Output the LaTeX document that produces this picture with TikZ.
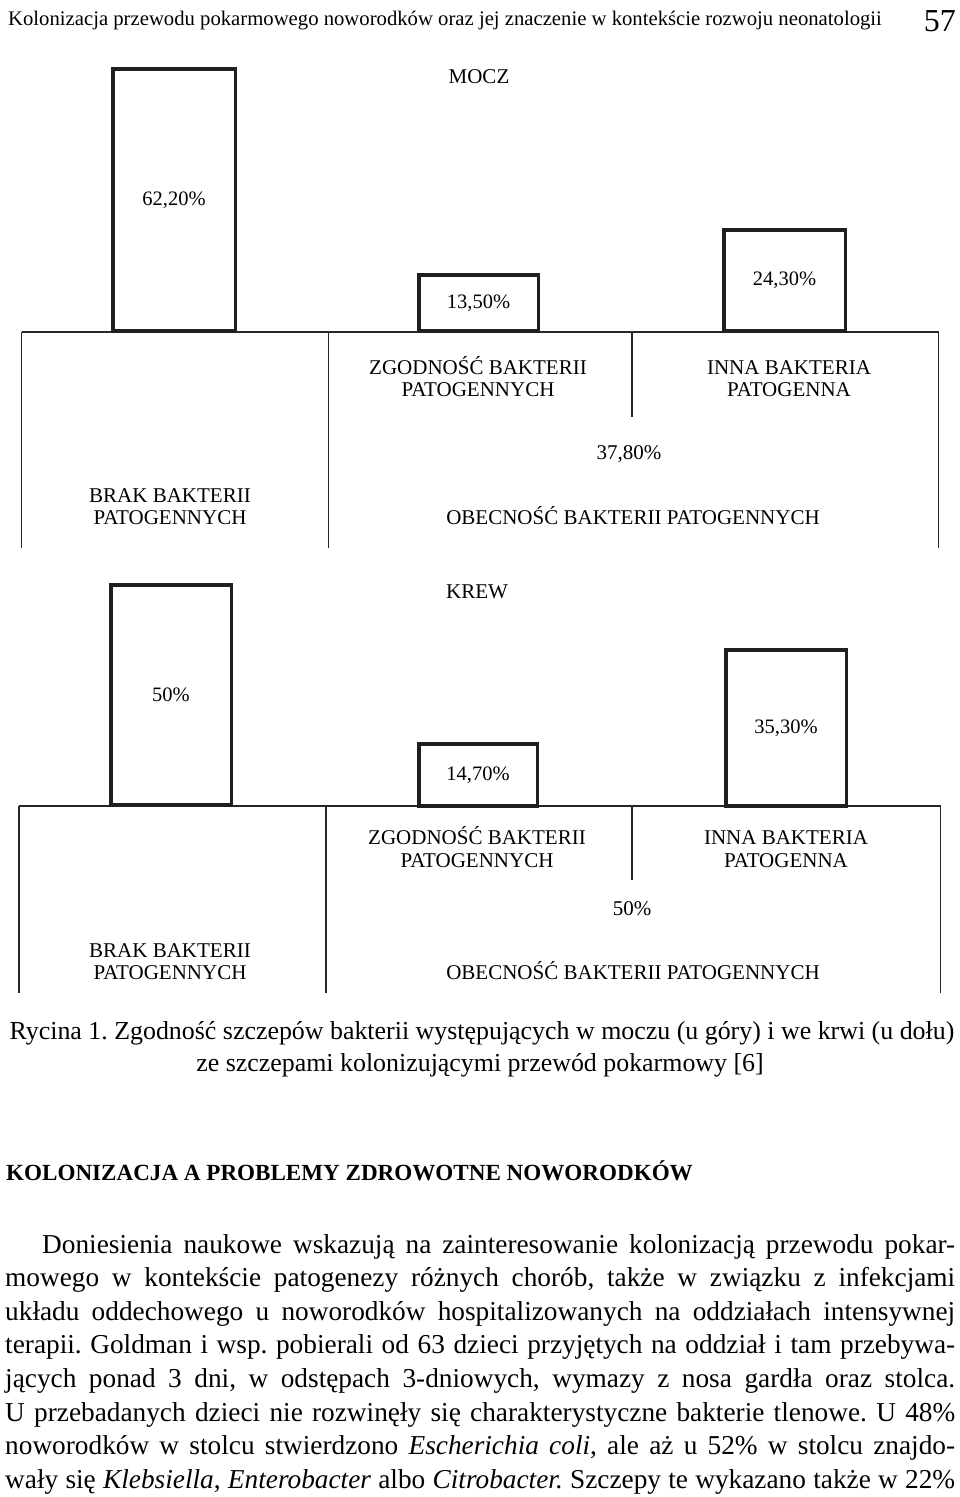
\documentclass[tikz,border=0pt]{standalone}
\usepackage{fontspec}
\setmainfont{Liberation Serif}
\begin{document}
\frenchspacing
\begin{tikzpicture}[x=1pt,y=-1pt,
  bar/.style={draw=black!88, line width=3.5pt, inner sep=0, font=\fontsize{20.5}{24}\selectfont},
  thin/.style={draw=black!85, line width=1.2pt},
  lab/.style={anchor=base, inner sep=0, font=\fontsize{21}{25}\selectfont},
  body/.style={anchor=base west, inner sep=0, font=\fontsize{27.3}{33.5}\selectfont},
  captxt/.style={anchor=base, inner sep=0, font=\fontsize{25.9}{30}\selectfont}]
\useasboundingbox (0,0) rectangle (960,1497);
\fill[white] (0,0) rectangle (960,1497);

% header
\node[anchor=base west, inner sep=0, font=\fontsize{20.7}{25}\selectfont] (hdr) at (8,25) {Kolonizacja przewodu pokarmowego noworodków oraz jej znaczenie w kontekście rozwoju neonatologii};
\node[anchor=base east, inner sep=0, font=\fontsize{32}{36}\selectfont] (pg) at (956,31) {57};

% ===== MOCZ =====
\node[lab] (mocz) at (479,83) {MOCZ};
\coordinate (tL) at (21.5,332); \coordinate (tA) at (328.6,332);
\coordinate (tB) at (632,332); \coordinate (tR) at (938.5,332);
\coordinate (tLb) at (21.5,548); \coordinate (tAb) at (328.6,548);
\coordinate (tBb) at (632,417); \coordinate (tRb) at (938.5,548);
\draw[thin] (tL) -- (tR);
\draw[thin] (tL) -- (tLb);
\draw[thin] (tA) -- (tAb);
\draw[thin] (tB) -- (tBb);
\draw[thin] (tR) -- (tRb);
\node[bar, minimum width=122.5, minimum height=262.3] (m1) at (174,199.9) {62,20\%};
\node[bar, minimum width=119.5, minimum height=56.3] (m2) at (478.5,302.9) {13,50\%};
\node[bar, minimum width=121.5, minimum height=101.3] (m3) at (784.5,280.4) {24,30\%};
\node[lab] (mz1) at (478,374) {ZGODNOŚĆ BAKTERII};
\node[lab] (mz2) at (478,396) {PATOGENNYCH};
\node[lab] (mi1) at (789,374) {INNA BAKTERIA};
\node[lab] (mi2) at (789,396) {PATOGENNA};
\node[lab] (mp) at (629,459) {37,80\%};
\node[lab] (mb1) at (170,502) {BRAK BAKTERII};
\node[lab] (mb2) at (170,524) {PATOGENNYCH};
\node[lab] (mo) at (633,524) {OBECNOŚĆ BAKTERII PATOGENNYCH};

% ===== KREW =====
\node[lab] (krew) at (477,598) {KREW};
\coordinate (bL) at (19,806); \coordinate (bA) at (326,806);
\coordinate (bB) at (632,806); \coordinate (bR) at (940.5,806);
\coordinate (bLb) at (19,993); \coordinate (bAb) at (326,993);
\coordinate (bBb) at (632,880); \coordinate (bRb) at (940.5,993);
\draw[thin] (bL) -- (bR);
\draw[thin] (bL) -- (bLb);
\draw[thin] (bA) -- (bAb);
\draw[thin] (bB) -- (bBb);
\draw[thin] (bR) -- (bRb);
\node[bar, minimum width=120.5, minimum height=220.3] (k1) at (171,694.9) {50\%};
\node[bar, minimum width=118.5, minimum height=62.3] (k2) at (478,774.9) {14,70\%};
\node[bar, minimum width=120.5, minimum height=156.3] (k3) at (786,727.9) {35,30\%};
\node[lab] (kz1) at (477,844) {ZGODNOŚĆ BAKTERII};
\node[lab] (kz2) at (477,867) {PATOGENNYCH};
\node[lab] (ki1) at (786,844) {INNA BAKTERIA};
\node[lab] (ki2) at (786,867) {PATOGENNA};
\node[lab] (kp) at (632,915) {50\%};
\node[lab] (kb1) at (170,957) {BRAK BAKTERII};
\node[lab] (kb2) at (170,979) {PATOGENNYCH};
\node[lab] (ko) at (633,979) {OBECNOŚĆ BAKTERII PATOGENNYCH};

% caption
\node[captxt] (c1) at (482,1039) {Rycina 1. Zgodność szczepów bakterii występujących w moczu (u góry) i we krwi (u dołu)};
\node[captxt] (c2) at (480,1071) {ze szczepami kolonizującymi przewód pokarmowy [6]};

% heading
\node[anchor=base west, inner sep=0, font=\fontsize{23.1}{27}\selectfont\bfseries] (hd) at (6,1180) {KOLONIZACJA A PROBLEMY ZDROWOTNE NOWORODKÓW};

% body
\node[body] (l1) at (42,1253) {\makebox[913pt][s]{Doniesienia naukowe wskazują na zainteresowanie kolonizacją przewodu pokar-}};
\node[body] (l2) at (5,1286.6) {\makebox[950pt][s]{mowego w kontekście patogenezy różnych chorób, także w związku z infekcjami}};
\node[body] (l3) at (5,1320.2) {\makebox[950pt][s]{układu oddechowego u noworodków hospitalizowanych na oddziałach intensywnej}};
\node[body] (l4) at (5,1353.8) {\makebox[950pt][s]{terapii. Goldman i wsp. pobierali od 63 dzieci przyjętych na oddział i tam przebywa-}};
\node[body] (l5) at (5,1387.4) {\makebox[950pt][s]{jących ponad 3 dni, w odstępach 3-dniowych, wymazy z nosa gardła oraz stolca.}};
\node[body] (l6) at (5,1421) {\makebox[950pt][s]{U przebadanych dzieci nie rozwinęły się charakterystyczne bakterie tlenowe. U 48\%}};
\node[body] (l7) at (5,1454.6) {\makebox[950pt][s]{noworodków w stolcu stwierdzono \textit{Escherichia coli}, ale aż u 52\% w stolcu znajdo-}};
\node[body] (l8) at (5,1488.2) {\makebox[950pt][s]{wały się \textit{Klebsiella}, \textit{Enterobacter} albo \textit{Citrobacter.} Szczepy te wykazano także w 22\%}};
\end{tikzpicture}
\end{document}
